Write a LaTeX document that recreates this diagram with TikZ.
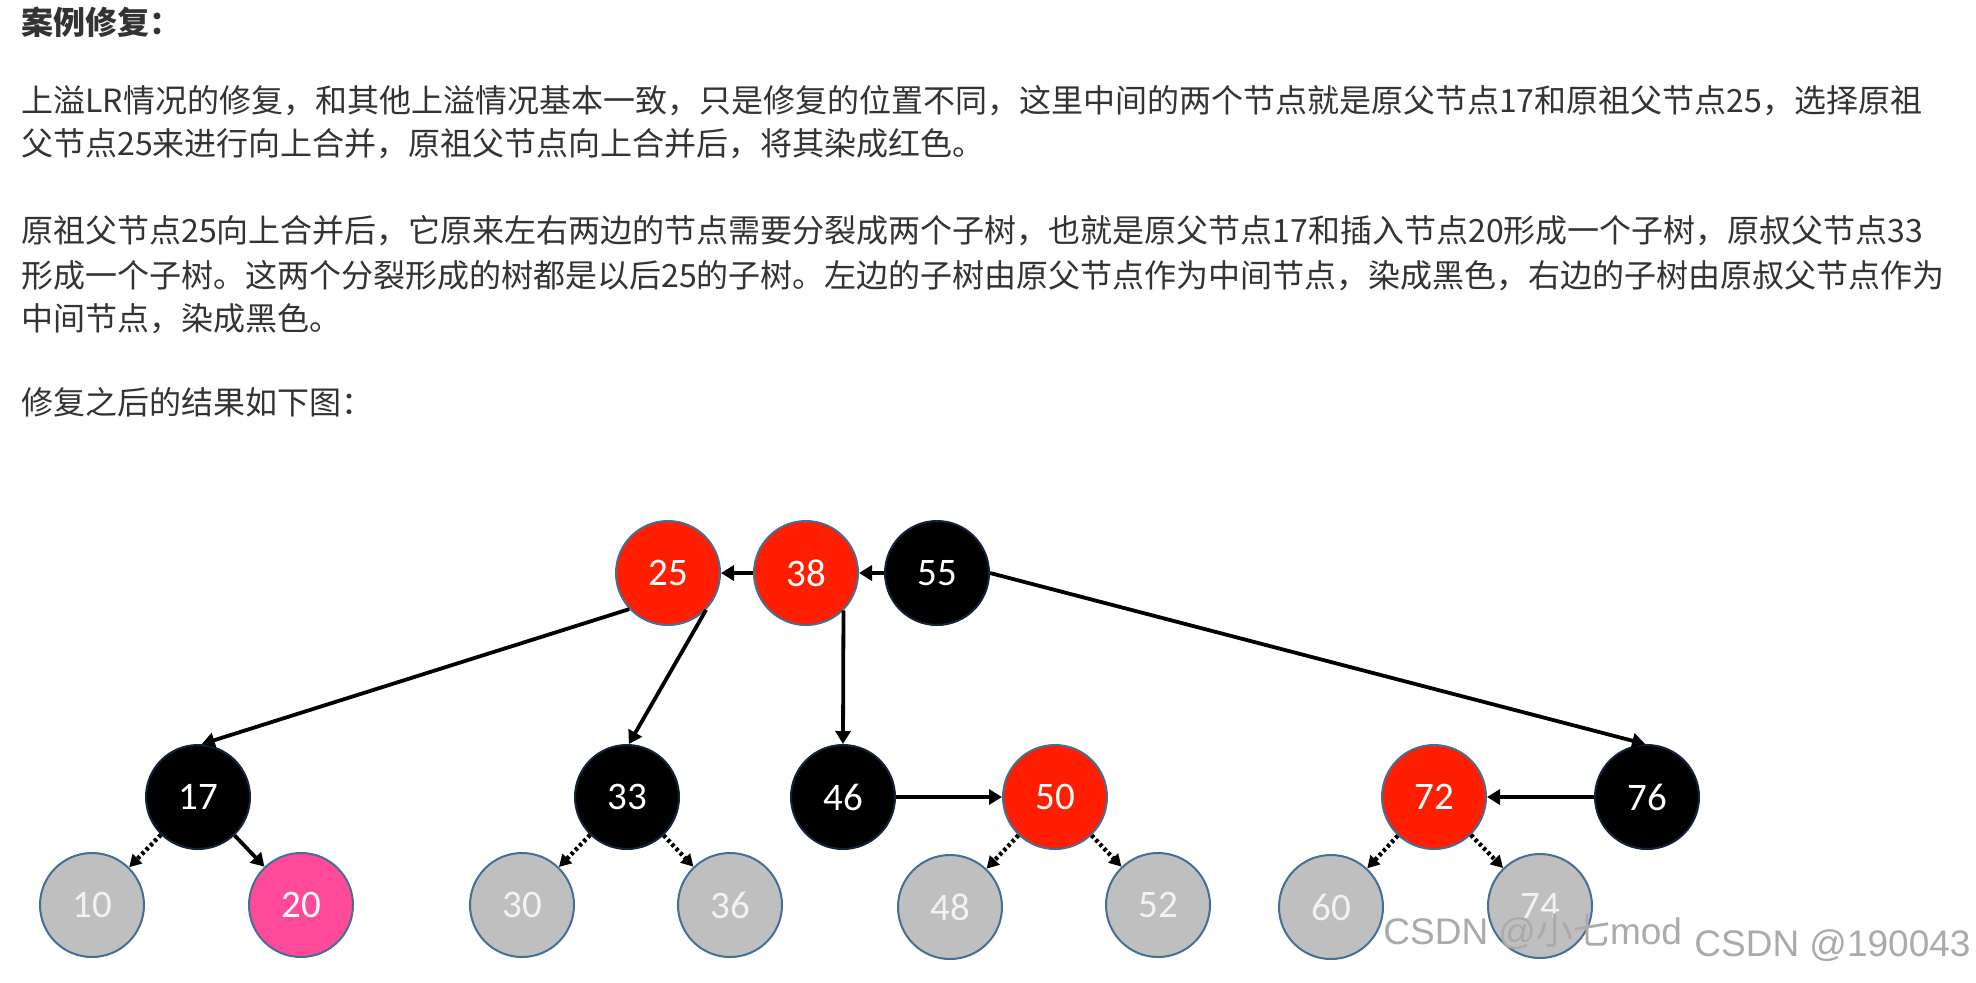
\documentclass[tikz,border=0pt]{standalone}
\usepackage{fontspec}
\setmainfont{Noto Sans CJK SC}
\newfontfamily\cjkf{Noto Sans CJK SC}
\newfontfamily\calib{Carlito}
\newfontfamily\wmfont{Liberation Sans}
\usetikzlibrary{arrows.meta}
\definecolor{txt}{HTML}{333333}
\definecolor{rbred}{RGB}{255,30,0}
\definecolor{rbpink}{RGB}{255,74,154}
\definecolor{rbgray}{RGB}{191,191,191}
\definecolor{rbedge}{RGB}{70,110,150}
\definecolor{rbdark}{RGB}{20,35,60}
\definecolor{wmgray}{RGB}{170,170,170}
\tikzset{
  para/.style={anchor=west, inner sep=0pt, text=txt, font=\cjkf\fontsize{16pt}{20pt}\selectfont},
  rbnode/.style={circle, minimum size=52pt, inner sep=0pt, line width=1pt, draw=rbedge, text=white, font=\calib\fontsize{19.5pt}{21pt}\selectfont},
  rednode/.style={rbnode, fill=rbred},
  blknode/.style={rbnode, fill=black, draw=rbdark},
  pinknode/.style={rbnode, fill=rbpink},
  graynode/.style={rbnode, fill=rbgray, text=white!95!black},
  arr/.style={-{Triangle[length=6.5pt,width=7.5pt]}, line width=1.9pt, black},
  dotarr/.style={-{Triangle[length=6pt,width=6.5pt]}, line width=2.2pt, black, dash pattern=on 1.6pt off 1.4pt},
  wm/.style={anchor=west, inner sep=0pt, text=wmgray, font=\wmfont\fontsize{18.5pt}{20pt}\selectfont}
}
\begin{document}
\begin{tikzpicture}[x=0.5pt,y=-0.5pt]
\useasboundingbox[fill=white] (0,0) rectangle (1976,982);
% text
\node[para, font=\cjkf\bfseries\fontsize{16pt}{20pt}\selectfont] (t0) at (21,22) {案例修复：};
\node[para] (t1) at (21,101) {上溢LR情况的修复，和其他上溢情况基本一致，只是修复的位置不同，这里中间的两个节点就是原父节点17和原祖父节点25，选择原祖};
\node[para] (t2) at (21,144) {父节点25来进行向上合并，原祖父节点向上合并后，将其染成红色。};
\node[para] (t3) at (21,231) {原祖父节点25向上合并后，它原来左右两边的节点需要分裂成两个子树，也就是原父节点17和插入节点20形成一个子树，原叔父节点33};
\node[para] (t4) at (21,276) {形成一个子树。这两个分裂形成的树都是以后25的子树。左边的子树由原父节点作为中间节点，染成黑色，右边的子树由原叔父节点作为};
\node[para] (t5) at (21,319) {中间节点，染成黑色。};
\node[para] (t6) at (21,402) {修复之后的结果如下图：};
% tree nodes
\node[rednode] (n25) at (668,573) {25};
\node[rednode] (n38) at (806,573) {38};
\node[blknode] (n55) at (937,573) {55};
\node[blknode] (n17) at (198,797) {17};
\node[blknode] (n33) at (627,797) {33};
\node[blknode] (n46) at (843,797) {46};
\node[rednode] (n50) at (1055,797) {50};
\node[rednode] (n72) at (1434,797) {72};
\node[blknode] (n76) at (1647,797) {76};
\node[graynode] (n10) at (92,905) {10};
\node[pinknode] (n20) at (301,905) {20};
\node[graynode] (n30) at (522,905) {30};
\node[graynode] (n36) at (730,905) {36};
\node[graynode] (n48) at (950,907) {48};
\node[graynode] (n52) at (1158,905) {52};
\node[graynode] (n60) at (1331,907) {60};
\node[graynode] (n74) at (1540,906) {74};
% connectors
\draw[arr] (n38) -- (n25);
\draw[arr] (n55) -- (n38);
\draw[arr] (n25.223) -- (n17.86);
\draw[arr] (n25.316) -- (n33.88);
\draw[arr] (n38.315) -- (n46.north);
\draw[arr] (n55.east) -- (n76.92);
\draw[arr] (n46) -- (n50);
\draw[arr] (n76) -- (n72);
\draw[arr] (n17) -- (n20);
\draw[dotarr] (n17) -- (n10);
\draw[dotarr] (n33) -- (n30);
\draw[dotarr] (n33) -- (n36);
\draw[dotarr] (n50) -- (n48);
\draw[dotarr] (n50) -- (n52);
\draw[dotarr] (n72) -- (n60);
\draw[dotarr] (n72) -- (n74);
% watermarks
\node[wm] (w1) at (1383,932) {CSDN @{\cjkf 小七}mod};
\node[wm] (w2) at (1694,946) {CSDN @190043};
\end{tikzpicture}
\end{document}
